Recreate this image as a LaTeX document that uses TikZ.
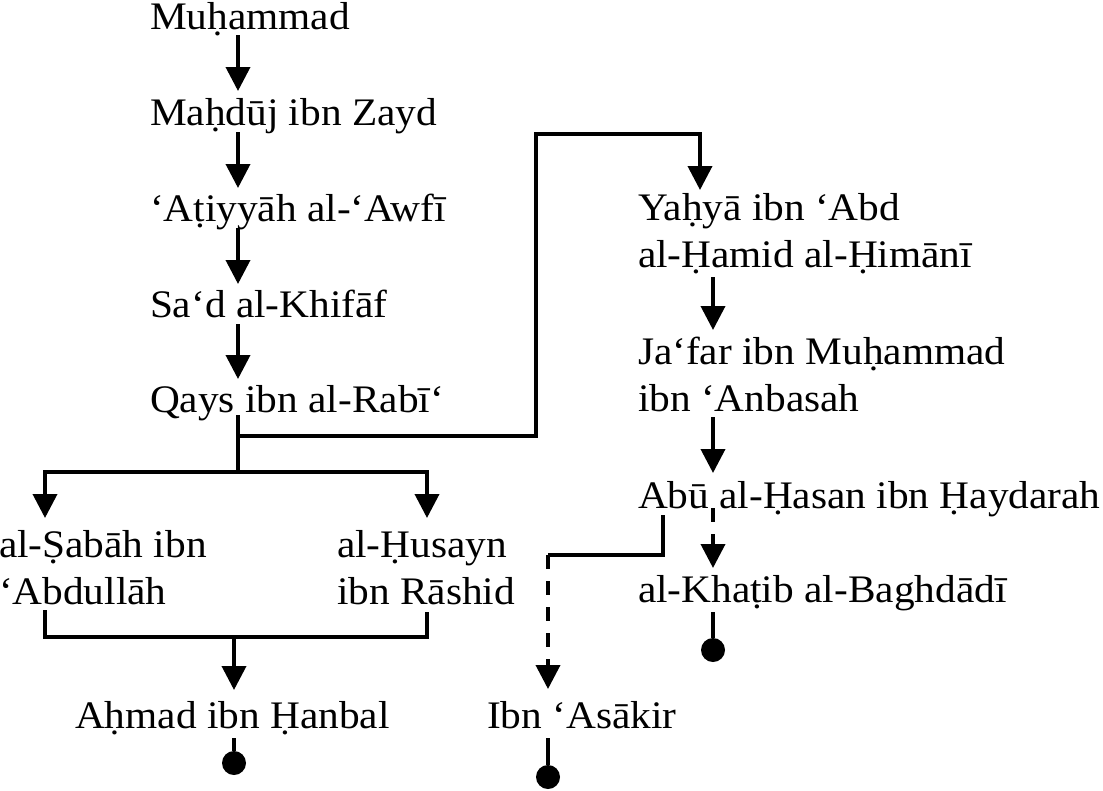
\documentclass[tikz,border=0pt]{standalone}
\usepackage{fontspec}
\setmainfont{Liberation Serif}[FakeStretch=1.06]
\usetikzlibrary{arrows.meta}
\begin{document}
\begin{tikzpicture}[x=1pt,y=-1pt,
  lbl/.style={anchor=base west, inner sep=0pt, outer sep=0pt, font=\fontsize{39}{47}\selectfont},
  con/.style={line width=3.8pt, line join=miter},
  arr/.style={con, -{Triangle[length=24pt,width=24pt]}},
  dsh/.style={dash pattern=on 14pt off 12pt},
  dot/.style={circle, fill=black, minimum size=24pt, inner sep=0pt}]
\useasboundingbox (0,0) rectangle (1103,790);
% columns
\coordinate (xL) at (238,0);
\coordinate (xA) at (234,0);
\coordinate (xS) at (45,0);
\coordinate (xH) at (427,0);
\coordinate (xB) at (536,0);
\coordinate (xY) at (700,0);
\coordinate (xR) at (713,0);
\coordinate (xU) at (663,0);
\coordinate (xI) at (548,0);
% nodes
\node[lbl] (muh) at (150,29) {Muḥammad};
\node[lbl] (mah) at (150,125) {Maḥdūj ibn Zayd};
\node[lbl] (ati) at (150,221) {‘Aṭiyyāh al-‘Awfī};
\node[lbl] (sad) at (150,317) {Sa‘d al-Khifāf};
\node[lbl] (qay) at (150,412) {Qays ibn al-Rabī‘};
\node[lbl] (sab) at (-1,557) {\begin{tabular}[t]{@{}l@{}}al-Ṣabāh ibn\\‘Abdullāh\end{tabular}};
\node[lbl] (hus) at (337,557) {\begin{tabular}[t]{@{}l@{}}al-Ḥusayn\\ibn Rāshid\end{tabular}};
\node[lbl] (ahm) at (75,728) {Aḥmad ibn Ḥanbal};
\node[lbl] (yah) at (638,220) {\begin{tabular}[t]{@{}l@{}}Yaḥyā ibn ‘Abd\\al-Ḥamid al-Ḥimānī\end{tabular}};
\node[lbl] (jaf) at (638,364) {\begin{tabular}[t]{@{}l@{}}Ja‘far ibn Muḥammad\\ibn ‘Anbasah\end{tabular}};
\node[lbl] (abu) at (638,508) {Abū al-Ḥasan ibn Ḥaydarah};
\node[lbl] (kha) at (638,602) {al-Khaṭib al-Baghdādī};
\node[lbl] (ibn) at (487,728) {Ibn ‘Asākir};
% junctions
\coordinate (jq) at ([yshift=-60pt]qay.base -| xL);
\coordinate (jr) at ([yshift=-24pt]qay.base -| xL);
\coordinate (jt) at ([yshift=86pt]yah.base -| xB);
\coordinate (jb) at ([yshift=-80pt]sab.base -| xA);
\coordinate (ja) at ([yshift=-47pt]abu.base -| xI);
% left column
\draw[arr] ([yshift=-6pt]muh.base -| xL) -- ([yshift=34pt]mah.base -| xL);
\draw[arr] ([yshift=-7pt]mah.base -| xL) -- ([yshift=33pt]ati.base -| xL);
\draw[arr] ([yshift=-7pt]ati.base -| xL) -- ([yshift=33pt]sad.base -| xL);
\draw[arr] ([yshift=-7pt]sad.base -| xL) -- ([yshift=33pt]qay.base -| xL);
\draw[con] ([yshift=-3pt]qay.base -| xL) -- (jq);
\draw[arr] (jq) -| ([yshift=39pt]sab.base -| xS);
\draw[arr] (jq) -| ([yshift=39pt]hus.base -| xH);
\draw[arr] (jr) -| (jt) -| ([yshift=30pt]yah.base -| xY);
\draw[con] ([yshift=-53pt]sab.base -| xS) |- ([yshift=-80pt]hus.base -| xH) -- ([yshift=-55pt]hus.base -| xH);
\draw[arr] (jb) -- ([yshift=38pt]ahm.base -| xA);
% right column
\draw[arr] ([yshift=-57pt]yah.base -| xR) -- ([yshift=34pt]jaf.base -| xR);
\draw[arr] ([yshift=-53pt]jaf.base -| xR) -- ([yshift=35pt]abu.base -| xR);
\draw[arr,dsh] (abu.base -| xR) -- ([yshift=34pt]kha.base -| xR);
\draw[con] ([yshift=-7pt]abu.base -| xU) |- (ja);
\draw[arr,dsh] (ja) -- ([yshift=39pt]ibn.base -| xI);
% end dots
\node[dot] (d1) at ([yshift=-48pt]kha.base -| xR) {};
\draw[con] ([yshift=-10pt]kha.base -| xR) -- (d1);
\node[dot] (d2) at ([yshift=-35pt]ahm.base -| xA) {};
\draw[con] ([yshift=-10pt]ahm.base -| xA) -- (d2);
\node[dot] (d3) at ([yshift=-49pt]ibn.base -| xI) {};
\draw[con] ([yshift=-10pt]ibn.base -| xI) -- (d3);
\end{tikzpicture}
\end{document}
